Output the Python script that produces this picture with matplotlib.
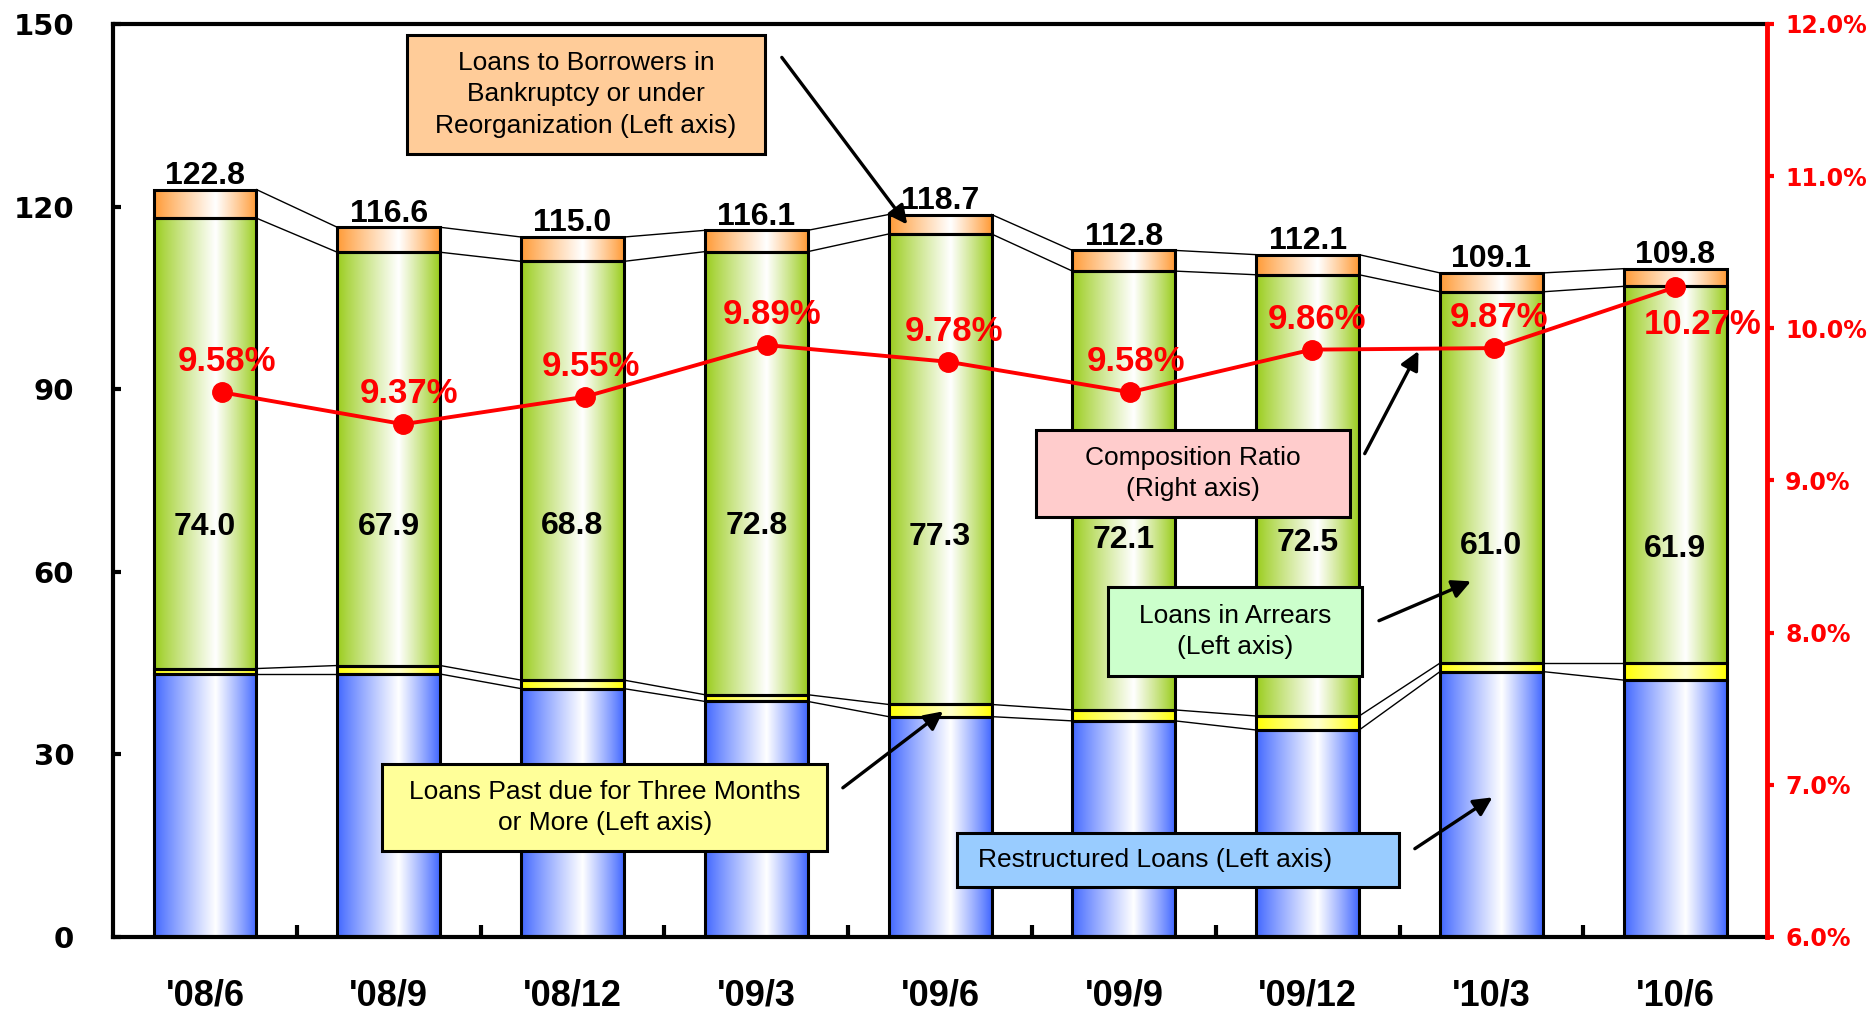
import numpy as np
import matplotlib
matplotlib.use('Agg')
import matplotlib.pyplot as plt
from matplotlib.patches import Rectangle

plt.rcParams['font.family'] = ['Liberation Sans', 'DejaVu Sans']

periods = ["'08/6", "'08/9", "'08/12", "'09/3", "'09/6", "'09/9", "'09/12", "'10/3", "'10/6"]
restructured = [43.2, 43.2, 40.8, 38.7, 36.2, 35.5, 34.0, 43.6, 42.2]
past_due = [0.9, 1.4, 1.4, 1.1, 2.0, 1.8, 2.3, 1.4, 2.8]
arrears = [74.0, 67.9, 68.8, 72.8, 77.3, 72.1, 72.5, 61.0, 61.9]
bankrupt = [4.7, 4.1, 4.0, 3.5, 3.2, 3.4, 3.3, 3.1, 2.9]
totals = [122.8, 116.6, 115.0, 116.1, 118.7, 112.8, 112.1, 109.1, 109.8]
ratio = [9.58, 9.37, 9.55, 9.89, 9.78, 9.58, 9.86, 9.87, 10.27]

# where the arrears numbers sit inside the bars (left axis units)
arrears_label_y = [67.3, 67.3, 67.6, 67.5, 65.7, 65.3, 64.7, 64.3, 63.7]

width = 0.56
x = np.arange(len(periods))
# the ratio line sits on its own slightly squeezed x scale
x_line = np.linspace(0.09, len(x) - 1, len(x))

fig = plt.figure(figsize=(18.72, 10.21), dpi=100)
ax = fig.add_axes([0.0604, 0.0823, 0.8836, 0.8942])


def gradient(edge, centre=(1, 1, 1), c=0.6, n=200):
    t = np.linspace(0, 1, n)
    f = np.where(t <= c, t / c, (1 - t) / (1 - c))
    f = f ** 0.9
    edge = np.array(edge)
    centre = np.array(centre)
    img = edge[None, :] * (1 - f[:, None]) + centre[None, :] * f[:, None]
    return img[None, :, :]


segments = [
    (restructured, gradient((0.25, 0.4, 1.0))),
    (past_due, gradient((1.0, 1.0, 0.0), (1.0, 1.0, 0.8))),
    (arrears, gradient((0.6, 0.8, 0.1))),
    (bankrupt, gradient((1.0, 0.6, 0.2))),
]

bottom = np.zeros(len(x))
levels = []
for vals, img in segments:
    vals = np.array(vals)
    bars = ax.bar(x, vals, width, bottom=bottom, facecolor='none',
                  edgecolor='black', linewidth=2.2, zorder=3)
    for b in bars:
        ax.imshow(img, extent=[b.get_x(), b.get_x() + b.get_width(),
                               b.get_y(), b.get_y() + b.get_height()],
                  aspect='auto', interpolation='bilinear', zorder=2)
    bottom = bottom + vals
    levels.append(bottom.copy())

# series lines between bars
for lev in levels:
    for i in range(len(x) - 1):
        ax.plot([x[i] + width / 2, x[i + 1] - width / 2], [lev[i], lev[i + 1]],
                color='black', lw=1, zorder=1)

for i in range(len(x)):
    ax.annotate(f'{totals[i]:.1f}', (x[i], levels[-1][i]), xytext=(0, -1),
                textcoords='offset points', ha='center', va='bottom',
                fontsize=23, fontweight='bold')
    ax.text(x[i], arrears_label_y[i], f'{arrears[i]:.1f}', ha='center', va='center',
            fontsize=23, fontweight='bold', zorder=5)

ax.set_xlim(-0.5, len(x) - 0.5)
ax.set_ylim(0, 150)
ax.set_yticks([0, 30, 60, 90, 120, 150])
ax.set_xticks(x)
ax.set_xticklabels(periods, fontsize=26, fontweight='bold')
ax.set_xticks(x[:-1] + 0.5, minor=True)
ax.tick_params(axis='x', which='major', length=0, pad=30)
ax.tick_params(axis='x', which='minor', direction='in', length=9, width=3)
ax.tick_params(axis='y', direction='in', length=6, width=3, pad=28)
for lab in ax.get_yticklabels():
    lab.set_family('DejaVu Sans')
    lab.set_fontweight('bold')
    lab.set_fontsize(21)
for s in ['left', 'bottom', 'top']:
    ax.spines[s].set_linewidth(3)
ax.spines['right'].set_visible(False)

# ratio on the right axis
ax2 = ax.twinx()
ax2.set_ylim(6, 12)
ax2.set_yticks([6, 7, 8, 9, 10, 11, 12])
ax2.set_yticklabels([f'{v:.1f}%' for v in range(6, 13)])
ax2.plot(x_line, ratio, color='red', lw=2.8, marker='o', markersize=14, zorder=5)
for i in range(len(x)):
    off = (4, 22) if i < len(x) - 1 else (20, -27)
    ax2.annotate(f'{ratio[i]:.2f}%', (x_line[i], ratio[i]), xytext=off,
                 textcoords='offset points', ha='center', va='center',
                 fontsize=25, fontweight='bold', color='red')
ax2.tick_params(axis='y', direction='out', length=5, width=3, pad=8,
                colors='red')
for lab in ax2.get_yticklabels():
    lab.set_family('DejaVu Sans')
    lab.set_fontweight('bold')
    lab.set_fontsize(17)
ax2.spines['right'].set_color('red')
ax2.spines['right'].set_linewidth(3.5)
for s in ['left', 'bottom', 'top']:
    ax2.spines[s].set_visible(False)

# callout boxes
boxes = [
    ((0.1776, 0.8575, 0.2166, 0.1307), '#FFCC99',
     'Loans to Borrowers in\nBankruptcy or under\nReorganization (Left axis)', (0.2859, 0.9229),
     (0.4043, 0.9634), (0.4801, 0.7804)),
    ((0.5581, 0.4601, 0.1899, 0.0955), '#FFCCCC',
     'Composition Ratio\n(Right axis)', (0.6530, 0.5078),
     (0.7567, 0.5294), (0.7892, 0.6418)),
    ((0.6014, 0.2863, 0.1538, 0.0967), '#CCFFCC',
     'Loans in Arrears\n(Left axis)', (0.6783, 0.3346),
     (0.7653, 0.3464), (0.8209, 0.3895)),
    ((0.1625, 0.0941, 0.2693, 0.0954), '#FFFF99',
     'Loans Past due for Three Months\nor More (Left axis)', (0.2972, 0.1418),
     (0.4412, 0.1634), (0.5018, 0.2471)),
    ((0.5105, 0.0549, 0.2671, 0.0588), '#99CCFF',
     'Restructured Loans (Left axis)', (0.6300, 0.0843),
     (0.7870, 0.0967), (0.8339, 0.1529)),
]
for (bx, by, bw, bh), fc, txt, (tx, ty), tail, head in boxes:
    ax2.add_patch(Rectangle((bx, by), bw, bh, transform=ax2.transAxes,
                            facecolor=fc, edgecolor='black', lw=2.2, zorder=6))
    ax2.text(tx, ty, txt, transform=ax2.transAxes, ha='center', va='center',
             fontsize=19, linespacing=1.4, zorder=7)
    ax2.annotate('', xy=head, xytext=tail, xycoords='axes fraction',
                 textcoords='axes fraction', zorder=7,
                 arrowprops=dict(arrowstyle='-|>', lw=2.4, color='black',
                                 mutation_scale=28, shrinkA=0, shrinkB=0))

fig.savefig('out.png', dpi=100)
